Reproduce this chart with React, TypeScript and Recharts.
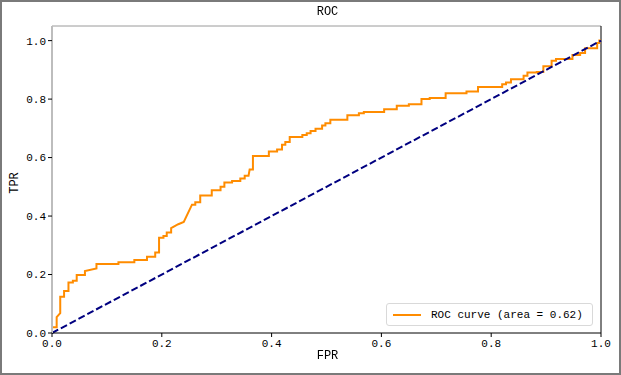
import { LineChart, Line, XAxis, YAxis, ReferenceLine } from 'recharts'

// ROC curve step points
const FPR = [
  0, 0, 0.0085, 0.0085, 0.015, 0.015, 0.022, 0.022, 0.03, 0.03, 0.038, 0.038, 0.045, 0.045,
  0.06, 0.06, 0.081, 0.081, 0.121, 0.121, 0.15, 0.15, 0.173, 0.173, 0.188, 0.188, 0.195, 0.195,
  0.203, 0.203, 0.209, 0.209, 0.217, 0.217, 0.23, 0.24, 0.255, 0.261, 0.261, 0.27, 0.27, 0.291,
  0.291, 0.307, 0.307, 0.314, 0.314, 0.328, 0.328, 0.343, 0.343, 0.351, 0.351, 0.358, 0.36,
  0.366, 0.366, 0.395, 0.395, 0.41, 0.41, 0.419, 0.419, 0.425, 0.425, 0.433, 0.433, 0.456, 0.456,
  0.464, 0.464, 0.471, 0.471, 0.48, 0.48, 0.492, 0.492, 0.498, 0.498, 0.507, 0.507, 0.538, 0.538,
  0.559, 0.559, 0.568, 0.568, 0.605, 0.605, 0.628, 0.628, 0.65, 0.65, 0.673, 0.673, 0.688, 0.688,
  0.717, 0.717, 0.755, 0.755, 0.776, 0.776, 0.82, 0.82, 0.827, 0.827, 0.836, 0.836, 0.859, 0.859,
  0.866, 0.866, 0.883, 0.883, 0.895, 0.895, 0.91, 0.91, 0.918, 0.918, 0.948, 0.948, 0.962, 0.962,
  0.971, 0.971, 0.993, 0.993, 0.997, 0.997, 1,
]
const TPR = [
  0, 0.02, 0.02, 0.054, 0.068, 0.124, 0.124, 0.144, 0.144, 0.173, 0.173, 0.179, 0.179, 0.198,
  0.198, 0.212, 0.221, 0.236, 0.236, 0.242, 0.242, 0.25, 0.25, 0.261, 0.261, 0.275, 0.275, 0.326,
  0.326, 0.332, 0.332, 0.344, 0.344, 0.359, 0.372, 0.38, 0.439, 0.439, 0.447, 0.447, 0.47, 0.47,
  0.488, 0.488, 0.5, 0.5, 0.515, 0.515, 0.52, 0.52, 0.528, 0.528, 0.538, 0.538, 0.559,
  0.559, 0.605, 0.605, 0.621, 0.621, 0.628, 0.628, 0.644, 0.644, 0.653, 0.653, 0.67, 0.67, 0.677,
  0.677, 0.683, 0.683, 0.691, 0.691, 0.699, 0.699, 0.71, 0.71, 0.717, 0.717, 0.729, 0.729, 0.745,
  0.745, 0.752, 0.752, 0.756, 0.756, 0.765, 0.765, 0.777, 0.777, 0.782, 0.782, 0.8, 0.8, 0.804,
  0.804, 0.82, 0.82, 0.826, 0.826, 0.841, 0.841, 0.851, 0.851, 0.857, 0.857, 0.868, 0.868, 0.88,
  0.88, 0.891, 0.891, 0.893, 0.893, 0.912, 0.912, 0.931, 0.931, 0.937, 0.937, 0.951, 0.951, 0.958,
  0.958, 0.974, 0.974, 0.992, 0.992, 1, 1,
]
const CHANCE_X = [0, 1]
const CHANCE_Y = [0, 1]
const TICKS = [0, 0.2, 0.4, 0.6, 0.8, 1.0]
const AUC = 0.62

const roc = FPR.map((x, i) => ({ fpr: x, tpr: TPR[i] }))
const chance = CHANCE_X.map((x, i) => ({ fpr: x, tpr: CHANCE_Y[i] }))

const FONT = '"Liberation Mono", "DejaVu Sans Mono", monospace'
const tickStyle = { fontSize: 11, fill: '#000', fontFamily: FONT }

export default function App() {
  return (
    <div
      style={{
        position: 'fixed',
        left: 0,
        top: 0,
        width: 621,
        height: 375,
        boxSizing: 'border-box',
        border: '2px solid #7a7a7a',
        background: '#fff',
        fontFamily: FONT,
      }}
    >
      <div style={{ position: 'absolute', left: -2, top: -2 }}>
        <LineChart width={621} height={375} margin={{ top: 26, right: 20, bottom: 12, left: 12 }}>
          <XAxis
            dataKey="fpr"
            type="number"
            domain={[0, 1]}
            ticks={TICKS}
            tickFormatter={(v: number) => v.toFixed(1)}
            tick={tickStyle}
            axisLine={{ stroke: '#000', strokeWidth: 1 }}
            tickLine={{ stroke: '#000' }}
            tickSize={4}
            height={30}
            allowDuplicatedCategory={false}
          />
          <YAxis
            dataKey="tpr"
            type="number"
            domain={[0, 1.05]}
            ticks={TICKS}
            tickFormatter={(v: number) => v.toFixed(1)}
            tick={tickStyle}
            axisLine={{ stroke: '#bdbdbd', strokeWidth: 2 }}
            tickLine={{ stroke: '#000' }}
            tickSize={4}
            width={40}
          />
          <ReferenceLine y={1.05} stroke="#9a9a9a" strokeWidth={1} />
          <ReferenceLine x={1} stroke="#000" strokeWidth={1} />
          <Line
            data={roc}
            dataKey="tpr"
            name="ROC curve"
            type="linear"
            stroke="#ff8c00"
            strokeWidth={2}
            dot={false}
            isAnimationActive={false}
          />
          <Line
            data={chance}
            dataKey="tpr"
            type="linear"
            stroke="#000080"
            strokeWidth={2}
            strokeDasharray="7 3"
            dot={false}
            isAnimationActive={false}
          />
        </LineChart>
      </div>
      {/* legend box, lower right like matplotlib's loc="lower right" */}
      <div
        style={{
          position: 'absolute',
          left: 384,
          top: 301,
          width: 205,
          height: 21,
          border: '1px solid #d9d9d9',
          borderRadius: 3,
          background: 'rgba(255,255,255,0.8)',
          display: 'flex',
          alignItems: 'center',
          fontSize: 11,
          color: '#000',
        }}
      >
        <span style={{ display: 'inline-block', width: 28, height: 2, background: '#ff8c00', marginLeft: 6, marginRight: 10 }} />
        <span style={{ whiteSpace: 'pre' }}>{`ROC curve (area = ${AUC.toFixed(2)})`}</span>
      </div>
      <div style={{ position: 'absolute', left: 0, width: 651, top: 3, textAlign: 'center', fontSize: 12 }}>ROC</div>
      <div style={{ position: 'absolute', left: 0, width: 651, top: 347, textAlign: 'center', fontSize: 12 }}>FPR</div>
      <div
        style={{
          position: 'absolute',
          left: 13,
          top: 181,
          fontSize: 12,
          transform: 'translate(-50%, -50%) rotate(-90deg)',
        }}
      >
        TPR
      </div>
    </div>
  )
}
